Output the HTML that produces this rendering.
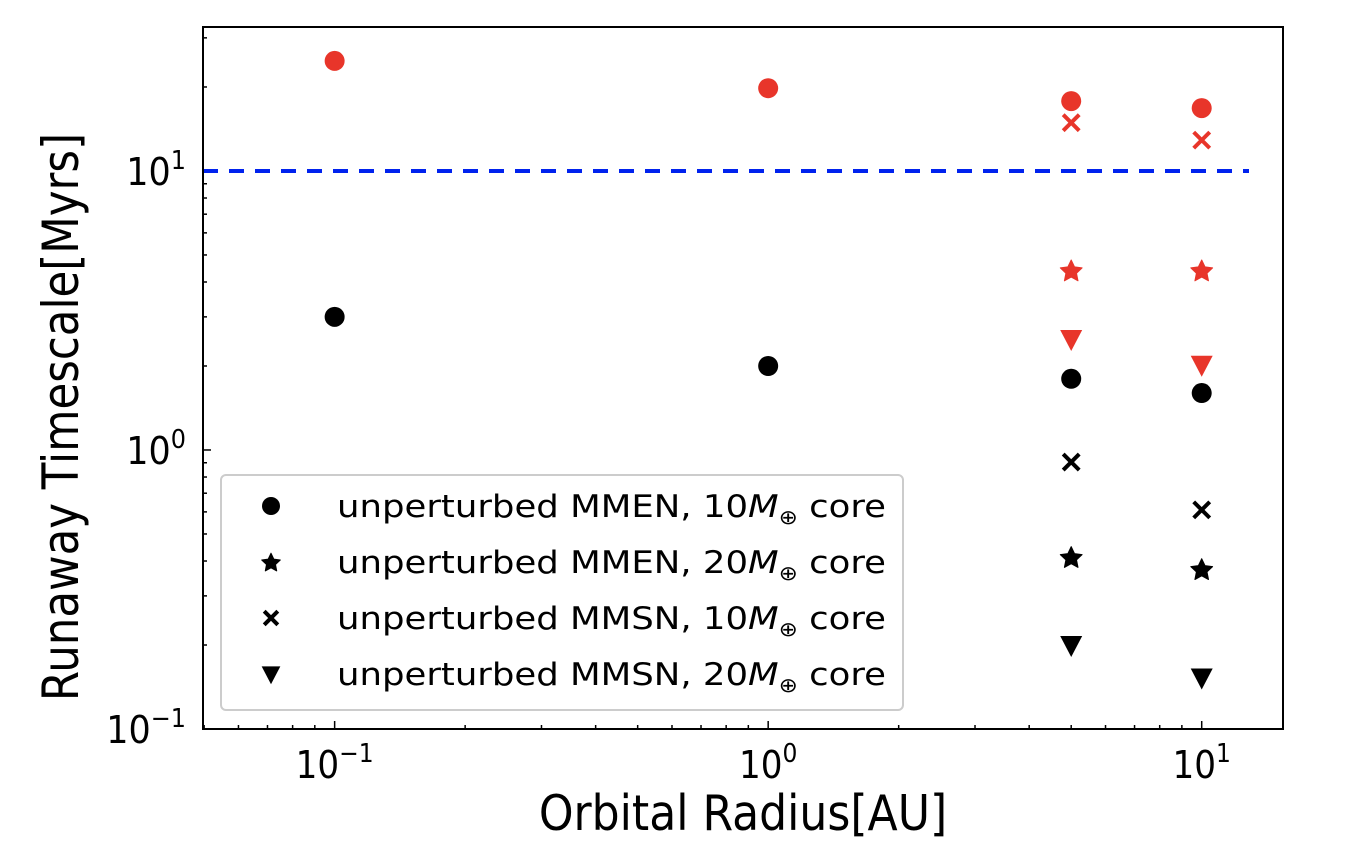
<!DOCTYPE html>
<html><head><meta charset="utf-8"><style>
html,body{margin:0;padding:0;background:#fff;}
svg{display:block;font-family:"DejaVu Sans","Liberation Sans",sans-serif;}
</style></head><body>
<svg id="chart" width="1350" height="850" viewBox="0 0 1350 850">
<g id="ticks"></g>
<g id="marks"></g>
<rect x="203" y="27" width="1080" height="702" fill="none" stroke="#000" stroke-width="2"/>
<text x="0" y="0" transform="translate(62 417) rotate(-90) scale(0.87 1)" font-size="50" text-anchor="middle" dominant-baseline="central">Runaway Timescale[Myrs]</text>
<text x="0" y="0" transform="translate(743 830) scale(0.9 1)" font-size="49" text-anchor="middle">Orbital Radius[AU]</text>
<g>
<rect x="221" y="475" width="682" height="235" rx="5" fill="#fff" fill-opacity="0.8" stroke="#ccc" stroke-width="2"/>
<g id="legend-items"></g>
</g>
</svg>
<script>
const xValues = [0.1, 1, 5, 10];
const redCircle = [24.8, 19.8, 17.8, 16.8];
const redCross = [null, null, 14.9, 12.9];
const redStar = [null, null, 4.4, 4.4];
const redTri = [null, null, 2.5, 2.02];
const blackCircle = [3.0, 2.0, 1.8, 1.6];
const blackCross = [null, null, 0.905, 0.61];
const blackStar = [null, null, 0.413, 0.374];
const blackTri = [null, null, 0.2, 0.153];
const refLine = 10;
const xTickLabels = ["-1", "0", "1"];
const yTickLabels = ["-1", "0", "1"];
const legendLabels = ["unperturbed MMEN, 10", "unperturbed MMEN, 20", "unperturbed MMSN, 10", "unperturbed MMSN, 20"];

const NS = "http://www.w3.org/2000/svg";
const X0 = 203, X1 = 1283, Y0 = 729, Y1 = 27;
const xmin = Math.log10(0.0497), xmax = Math.log10(15.4);
const ymin = -1, ymax = 1.516;
const sx = v => X0 + (Math.log10(v) - xmin) / (xmax - xmin) * (X1 - X0);
const sy = v => Y0 - (Math.log10(v) - ymin) / (ymax - ymin) * (Y0 - Y1);
function el(tag, attrs, parent) {
  const e = document.createElementNS(NS, tag);
  for (const k in attrs) e.setAttribute(k, attrs[k]);
  parent.appendChild(e); return e;
}
const ticks = document.getElementById("ticks");
const marks = document.getElementById("marks");
for (let d = -2; d <= 1; d++) for (let m = 1; m <= 9; m++) {
  const v = m * Math.pow(10, d); const x = sx(v);
  if (x < X0 || x > X1) continue;
  const len = m === 1 ? 8 : 4;
  const t = el("line", {x1: x, x2: x, y1: Y0, y2: Y0 - len, stroke: "#000", "stroke-width": 1.5}, ticks);
  
  
}
xTickLabels.forEach(p => {
  const x = sx(Math.pow(10, +p));
  const t = el("text", {x: x, y: 778, "font-size": 38, "text-anchor": "middle", transform: `translate(${x} 0) scale(0.9 1) translate(${-x} 0)`}, ticks);
  
  
  t.innerHTML = '10<tspan dy="-16" font-size="26">' + (p.startsWith("-") ? "\u2212" + p.slice(1) : p) + '</tspan>';
});
for (let d = -1; d <= 1; d++) for (let m = 1; m <= 9; m++) {
  const v = m * Math.pow(10, d); const y = sy(v);
  if (y < Y1 || y > Y0) continue;
  const len = m === 1 ? 8 : 4;
  const t = el("line", {x1: X0, x2: X0 + len, y1: y, y2: y, stroke: "#000", "stroke-width": 1.5}, ticks);
  
  
}
yTickLabels.forEach(p => {
  const y = sy(Math.pow(10, +p));
  const t = el("text", {x: 186, y: y + 14, "font-size": 38, "text-anchor": "end", transform: `translate(186 0) scale(0.92 1) translate(-186 0)`}, ticks);
  
  
  t.innerHTML = '10<tspan dy="-16" font-size="26">' + (p.startsWith("-") ? "\u2212" + p.slice(1) : p) + '</tspan>';
});
const rl = el("line", {x1: X0, x2: 1249, y1: sy(refLine), y2: sy(refLine), stroke: "#0022ee", "stroke-width": 4, "stroke-dasharray": "15 11"}, marks);



function marker(type, x, y, color, parent, s) {
  s = s || 1; let e;
  if (type === "circle") e = el("circle", {cx: x, cy: y, r: 10 * s, fill: color}, parent);
  else if (type === "cross") e = el("path", {d: `M${x-8*s},${y-8*s}L${x+8*s},${y+8*s}M${x-8*s},${y+8*s}L${x+8*s},${y-8*s}`, stroke: color, "stroke-width": 4, fill: "none"}, parent);
  else if (type === "star") {
    let d = ""; const R = 11.5 * s, r = 5.6 * s;
    for (let i = 0; i < 10; i++) { const a = -Math.PI / 2 + i * Math.PI / 5; const rr = i % 2 ? r : R; d += (i ? "L" : "M") + (x + rr * Math.cos(a)).toFixed(1) + "," + (y + 1 + rr * Math.sin(a)).toFixed(1); }
    e = el("path", {d: d + "Z", fill: color, stroke: color, "stroke-width": 1, "stroke-linejoin": "round"}, parent);
  } else e = el("path", {d: `M${x-11*s},${y-9*s}L${x+11*s},${y-9*s}L${x},${y+12*s}Z`, fill: color}, parent);
  return e;
}
const series = [
  [redCircle, "circle", "#e8352a"], [redCross, "cross", "#e8352a"], [redStar, "star", "#e8352a"], [redTri, "tri", "#e8352a"],
  [blackCircle, "circle", "#000"], [blackCross, "cross", "#000"], [blackStar, "star", "#000"], [blackTri, "tri", "#000"]
];
series.forEach(([vals, type, col]) => {
  vals.forEach((v, i) => {
    if (v == null) return;
    const m = marker(type, sx(xValues[i]), sy(v), col, marks);
    
    
  });
});
const li = document.getElementById("legend-items");
const ltypes = ["circle", "star", "cross", "tri"];
legendLabels.forEach((lab, i) => {
  const y = 506 + i * 56;
  const m = marker(ltypes[i], 271, y, "#000", li, ltypes[i] === "circle" ? 0.9 : 0.85);
  
  
  const t = el("text", {x: 337, y: y + 11, "font-size": 31, textLength: 549, lengthAdjust: "spacingAndGlyphs"}, li);
  
  
  t.innerHTML = lab + '<tspan font-style="italic">M</tspan><tspan font-size="20" dy="7">\u2295</tspan><tspan dy="-7"> core</tspan>';
});
</script>
</body></html>
